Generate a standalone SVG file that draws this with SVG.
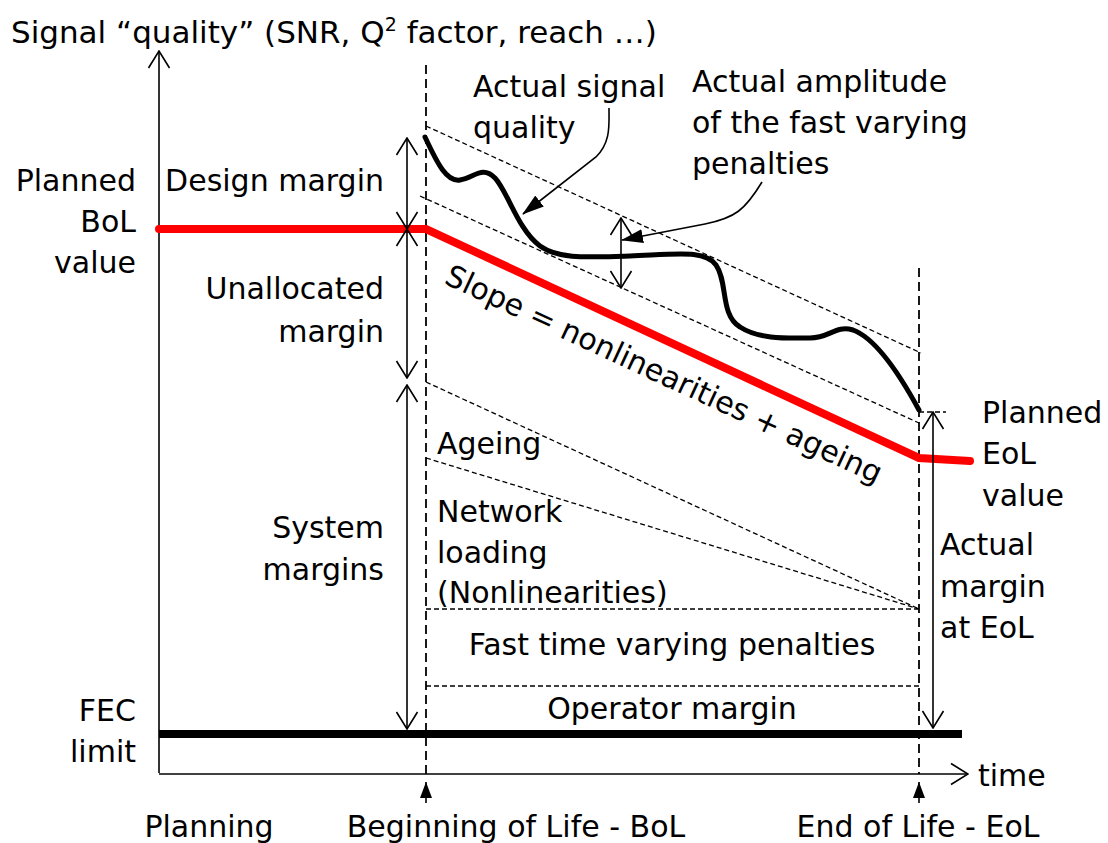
<svg xmlns="http://www.w3.org/2000/svg" width="1108" height="843" viewBox="0 0 1108 843">
  <style>
    text { font-family: "DejaVu Sans", "Liberation Sans", sans-serif; font-size: 30px; fill: #000; }
    .thin { fill: none; stroke: #000; stroke-width: 1.6; }
    .dash { fill: none; stroke: #000; stroke-width: 1.3; stroke-dasharray: 5 3; }
    .guide { fill: none; stroke: #000; stroke-width: 1.8; stroke-dasharray: 9 5; }
    .dim { fill: none; stroke: #000; stroke-width: 1.6; marker-start: url(#vee); marker-end: url(#vee); }
    .ptr { fill: none; stroke: #000; stroke-width: 1.6; marker-end: url(#tri); }
  </style>
  <defs>
    <marker id="vee" viewBox="0 0 20 24" refX="19" refY="12" markerWidth="20" markerHeight="24" markerUnits="userSpaceOnUse" orient="auto-start-reverse">
      <path d="M2,1.5 L19,12 L2,22.5" fill="none" stroke="#000" stroke-width="1.6"/>
    </marker>
    <marker id="tri" viewBox="0 0 22 14" refX="21" refY="7" markerWidth="22" markerHeight="14" markerUnits="userSpaceOnUse" orient="auto">
      <path d="M0,0 L22,7 L0,14 z" fill="#000"/>
    </marker>
    <marker id="tri-s" viewBox="0 0 16 12" refX="16" refY="6" markerWidth="16" markerHeight="12" markerUnits="userSpaceOnUse" orient="auto">
      <path d="M0,0 L16,6 L0,12 z" fill="#000"/>
    </marker>
  </defs>

  <rect width="1108" height="843" fill="#fff"/>

  <!-- lines, arrows and curves -->
  <g id="connectors">
    <!-- axes -->
    <line class="thin" x1="159" y1="773" x2="159" y2="51" marker-end="url(#vee)"/>
    <line class="thin" x1="159" y1="774" x2="968" y2="774" marker-end="url(#vee)"/>

    <!-- BoL / EoL guides -->
    <line class="guide" x1="426" y1="65" x2="426" y2="774"/>
    <line class="guide" x1="919" y1="268" x2="919" y2="774"/>

    <!-- time markers under the axis -->
    <line class="thin" x1="426" y1="803" x2="426" y2="782" marker-end="url(#tri-s)"/>
    <line class="thin" x1="919" y1="803" x2="919" y2="782" marker-end="url(#tri-s)"/>

    <!-- envelope of the fast varying penalties -->
    <line class="dash" x1="426" y1="126" x2="921" y2="353"/>
    <line class="dash" x1="420" y1="196" x2="919" y2="423"/>
    <line class="dash" x1="919" y1="412" x2="946" y2="412"/>

    <!-- system margin breakdown -->
    <line class="dash" x1="426" y1="382" x2="919" y2="609"/>
    <line class="dash" x1="426" y1="458" x2="919" y2="609"/>
    <line class="dash" x1="426" y1="609" x2="919" y2="609"/>
    <line class="dash" x1="426" y1="686" x2="919" y2="686"/>

    <!-- planned quality -->
    <polyline points="159,229 426,229 919,458 970,461" fill="none" stroke="#ff0000" stroke-width="8" stroke-linecap="round" stroke-linejoin="miter"/>

    <!-- FEC limit -->
    <rect x="159" y="730" width="803" height="8" fill="#000"/>

    <!-- margin dimensions -->
    <line class="dim" x1="407" y1="138" x2="407" y2="229"/>
    <line class="dim" x1="407" y1="229" x2="407" y2="378"/>
    <line class="dim" x1="407" y1="385" x2="407" y2="729"/>
    <line class="dim" x1="933" y1="412" x2="933" y2="728"/>
    <line class="dim" x1="621" y1="218" x2="621" y2="288"/>

    <!-- actual signal quality -->
    <path d="M425,137 C438,165 447,182 460,180 C474,178 482,165 495,178 C508,192 518,230 540,246 C560,260 590,257 630,256 C680,254 705,250 716,265 C728,282 720,315 740,327 C760,340 790,338 810,338 C830,338 835,325 853,330 C875,338 900,375 919,410" fill="none" stroke="#000" stroke-width="5" stroke-linecap="round"/>

    <!-- label pointers -->
    <path class="ptr" d="M609,108 C609,125 611,142 596,157 L523,214"/>
    <path class="ptr" d="M762,182 C745,210 735,218 705,224 L622,240"/>
  </g>

  <g id="title">
    <text x="11" y="43" style="font-size:31px">Signal “quality” (SNR, Q<tspan dy="-12" style="font-size:19px">2</tspan><tspan dy="12"> factor, reach …)</tspan></text>
  </g>

  <g id="planned-bol" text-anchor="end">
    <text x="136" y="191">Planned</text>
    <text x="136" y="232">BoL</text>
    <text x="136" y="273">value</text>
  </g>

  <g id="design-margin" text-anchor="end">
    <text x="384" y="191">Design margin</text>
  </g>

  <g id="unallocated-margin" text-anchor="end">
    <text x="384" y="299">Unallocated</text>
    <text x="384" y="342">margin</text>
  </g>

  <g id="system-margins" text-anchor="end">
    <text x="384" y="538">System</text>
    <text x="384" y="580">margins</text>
  </g>

  <g id="fec-limit" text-anchor="end">
    <text x="136" y="721">FEC</text>
    <text x="136" y="762">limit</text>
  </g>

  <g id="actual-signal-quality">
    <text x="473" y="97">Actual signal</text>
    <text x="473" y="138">quality</text>
  </g>

  <g id="actual-amplitude">
    <text x="692" y="92">Actual amplitude</text>
    <text x="692" y="133">of the fast varying</text>
    <text x="692" y="174">penalties</text>
  </g>

  <g id="slope">
    <text transform="translate(443,283) rotate(24.9)">Slope = nonlinearities + ageing</text>
  </g>

  <g id="ageing">
    <text x="437" y="454">Ageing</text>
  </g>

  <g id="network-loading">
    <text x="437" y="522">Network</text>
    <text x="437" y="563">loading</text>
    <text x="437" y="603">(Nonlinearities)</text>
  </g>

  <g id="fast-penalties" text-anchor="middle">
    <text x="672" y="655">Fast time varying penalties</text>
  </g>

  <g id="operator-margin" text-anchor="middle">
    <text x="672" y="719">Operator margin</text>
  </g>

  <g id="planned-eol">
    <text x="982" y="423">Planned</text>
    <text x="982" y="464">EoL</text>
    <text x="982" y="506">value</text>
  </g>

  <g id="actual-margin-eol">
    <text x="940" y="555">Actual</text>
    <text x="940" y="597">margin</text>
    <text x="940" y="638">at EoL</text>
  </g>

  <g id="time-axis">
    <text x="978" y="786">time</text>
  </g>

  <g id="timeline-labels" text-anchor="middle">
    <text x="209" y="837">Planning</text>
    <text x="516" y="837">Beginning of Life - BoL</text>
    <text x="918" y="837">End of Life - EoL</text>
  </g>
</svg>
